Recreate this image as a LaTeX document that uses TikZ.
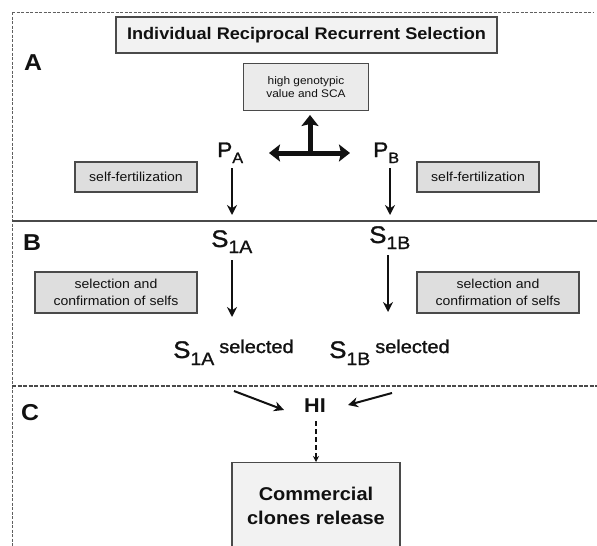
\documentclass[tikz,border=0pt]{standalone}
\usepackage{fontspec}
\setmainfont{Liberation Sans}[FakeStretch=1.08]
\newfontfamily\medfont{Liberation Sans}[FakeStretch=1.08,FakeBold=1.2]
\usetikzlibrary{arrows.meta}
\definecolor{frm}{HTML}{606060}
\definecolor{bord}{HTML}{4A4A4A}
\definecolor{fillA}{HTML}{F2F2F2}
\definecolor{fillB}{HTML}{DEDEDE}
\definecolor{fillC}{HTML}{EBEBEB}
\definecolor{ink}{HTML}{111111}
\newcommand{\fs}[2]{\fontsize{#1}{#2}\selectfont}
\begin{document}
\begin{tikzpicture}[x=1pt,y=-1pt,
  every node/.style={text=ink},
  box/.style={draw=bord,line width=1.3pt,inner sep=0pt,align=center},
  smallbox/.style={box,fill=fillB,font=\fs{13}{16.5}},
  lbl/.style={anchor=base west,inner sep=0pt,font=\bfseries\fs{23}{23}},
  gen/.style={anchor=base west,inner sep=0pt,font=\medfont},
  thinarr/.style={draw=ink,line width=2pt,-{Stealth[length=10pt,width=10pt]}},
  fatarr/.style={draw=ink,line width=5pt},
  frame/.style={draw=frm,line width=0.9pt,dash pattern=on 3pt off 1.5pt}
]
\useasboundingbox (0,0) rectangle (597,546);
% frame
\draw[frame] (12,12) -- (594,12);
\draw[frame] (12,12) -- (12,546);
\draw[draw=bord,line width=1.2pt] (12,221) -- (597,221);
\draw[draw=bord,line width=1.2pt,dash pattern=on 4pt off 1.5pt] (12,386) -- (597,386);

% section labels
\node[lbl] (lA) at (24,70) {A};
\node[lbl] (lB) at (23,250) {B};
\node[lbl] (lC) at (21,420) {C};

% title
\node[box,fill=fillA,minimum width=381pt,minimum height=36pt,font=\bfseries\fs{16.8}{20}] (title) at (306.5,35) {Individual Reciprocal Recurrent Selection};

% high genotypic
\node[box,fill=fillC,minimum width=125pt,minimum height=47pt,font=\fs{11}{13}] (hgv) at (306,87) {high genotypic\\value and SCA};

% T arrow
\coordinate (tj) at (310,153);
\coordinate (tl) at (269,153);
\coordinate (tr) at (350,153);
\coordinate (tt) at (310,115);
\draw[fatarr,-{Stealth[length=11pt,width=17pt,inset=2pt]}] (tj) -- (tt);
\draw[fatarr,{Stealth[length=11pt,width=17pt,inset=2pt]}-{Stealth[length=11pt,width=17pt,inset=2pt]}] (tl) -- (tr);

% P nodes
\node[gen] (PA) at (217,157) {\fs{21}{21}P\raisebox{-6pt}{\fs{15}{15}A}};
\node[gen] (PB) at (373,157) {\fs{21}{21}P\raisebox{-6pt}{\fs{15}{15}B}};

% self-fertilization boxes
\node[smallbox,minimum width=122pt,minimum height=30pt] (sfL) at (136,177) {self-fertilization};
\node[smallbox,minimum width=122pt,minimum height=30pt] (sfR) at (478,177) {self-fertilization};

% arrows P -> S
\coordinate (a1s) at (232,168); \coordinate (a1e) at (232,215);
\coordinate (a2s) at (390,168); \coordinate (a2e) at (390,215);
\draw[thinarr] (a1s) -- (a1e);
\draw[thinarr] (a2s) -- (a2e);

% S nodes
\node[gen] (S1A) at (211,247) {\fs{24}{24}S\raisebox{-6pt}{\fs{18}{18}1A}};
\node[gen] (S1B) at (369,243) {\fs{24}{24}S\raisebox{-6pt}{\fs{18}{18}1B}};

% selection boxes
\node[smallbox,minimum width=162pt,minimum height=41pt] (selL) at (116,292.5) {selection and\\confirmation of selfs};
\node[smallbox,minimum width=162pt,minimum height=41pt] (selR) at (498,292.5) {selection and\\confirmation of selfs};

% arrows S -> S selected
\coordinate (b1s) at (232,260); \coordinate (b1e) at (232,317);
\coordinate (b2s) at (388,255); \coordinate (b2e) at (388,312);
\draw[thinarr] (b1s) -- (b1e);
\draw[thinarr] (b2s) -- (b2e);

% S selected
\node[gen] (SSA) at (173,358) {\fs{24}{24}S\raisebox{-7pt}{\fs{18}{18}1A}\hspace{5pt}\raisebox{5pt}{\fs{18.5}{18.5}selected}};
\node[gen] (SSB) at (329,358) {\fs{24}{24}S\raisebox{-7pt}{\fs{18}{18}1B}\hspace{5pt}\raisebox{5pt}{\fs{18.5}{18.5}selected}};

% HI
\node[gen,font=\bfseries\fs{20}{20}] (HI) at (304,412) {HI};
\coordinate (c1s) at (234,391); \coordinate (c1e) at (284,410);
\coordinate (c2s) at (392,393); \coordinate (c2e) at (348,405);
\draw[thinarr] (c1s) -- (c1e);
\draw[thinarr] (c2s) -- (c2e);

% commercial box
\node[box,fill=fillA,minimum width=168pt,minimum height=86pt,anchor=north,font=\bfseries\fs{18.5}{24}] (comm) at (316,462) {Commercial\\clones release};
\coordinate (d1s) at (316,421);
\draw[draw=ink,line width=1.3pt,dash pattern=on 5pt off 3pt,-{Stealth[length=6pt,width=6pt]}] (d1s) -- (comm.north);
\end{tikzpicture}
\end{document}
